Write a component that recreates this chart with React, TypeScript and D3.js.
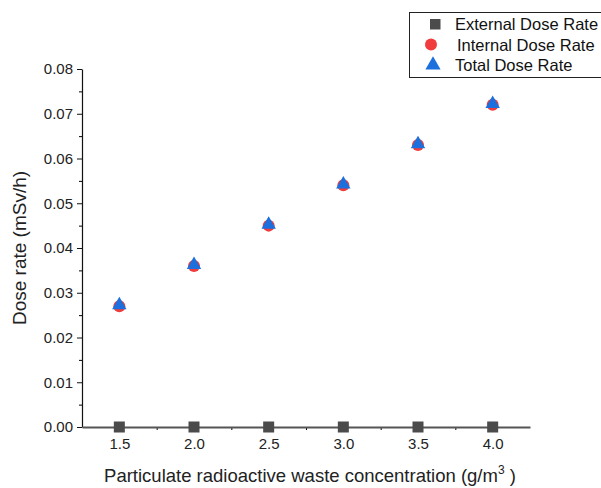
import React, { useEffect, useRef } from 'react';
import * as d3 from 'd3';

const concentrations = [1.5, 2.0, 2.5, 3.0, 3.5, 4.0];
const externalRate = [0, 0, 0, 0, 0, 0];
const internalRate = [0.027, 0.036, 0.045, 0.054, 0.063, 0.072];
const totalRate = [0.027, 0.036, 0.045, 0.054, 0.063, 0.072];
const yTicks = [0, 0.01, 0.02, 0.03, 0.04, 0.05, 0.06, 0.07, 0.08];
const seriesNames = ['External Dose Rate', 'Internal Dose Rate', 'Total Dose Rate'];

const width = 601;
const height = 488;
const margin = { left: 82, right: 71, top: 69, bottom: 60 };
const font = 'Arial, "Liberation Sans", sans-serif';

const colors = ['#4b4b4b', '#f03c3c', '#1c6fdc'];

function App() {
  const svgRef = useRef<SVGSVGElement>(null);

  useEffect(() => {
    const svg = d3.select(svgRef.current);
    svg.selectAll('*').remove();

    const x = d3.scaleLinear().domain([1.25, 4.25]).range([margin.left, width - margin.right]);
    const y = d3.scaleLinear().domain([0, 0.08]).range([height - margin.bottom - 1, margin.top]);

    // y axis, minor ticks then major
    const yMinor = svg.append('g').attr('transform', `translate(${margin.left},0)`);
    yMinor.call(d3.axisLeft(y).tickValues(d3.range(0.005, 0.08, 0.01)).tickSize(3).tickFormat(() => ''));
    yMinor.call((g) => g.select('.domain').remove());
    const yMajor = svg.append('g').attr('transform', `translate(${margin.left},0)`);
    yMajor.call(d3.axisLeft(y).tickValues(yTicks).tickSize(5).tickSizeOuter(0).tickPadding(4).tickFormat(d3.format('.2f')));
    yMajor.selectAll('text').attr('font-family', font).attr('font-size', 15).attr('fill', '#222');
    yMajor.select('.domain').attr('stroke', '#111').attr('stroke-width', 1.2);
    yMajor.selectAll('line').attr('stroke', '#111');

    // x axis
    const xMinor = svg.append('g').attr('transform', `translate(0,${y(0)})`);
    xMinor.call(d3.axisBottom(x).tickValues(d3.range(1.75, 4.0, 0.5)).tickSize(3).tickFormat(() => ''));
    xMinor.call((g) => g.select('.domain').remove());
    const xMajor = svg.append('g').attr('transform', `translate(0,${y(0)})`);
    xMajor.call(d3.axisBottom(x).tickValues(concentrations).tickSize(5).tickSizeOuter(0).tickPadding(6).tickFormat(d3.format('.1f')));
    xMajor.selectAll('text').attr('font-family', font).attr('font-size', 15).attr('fill', '#222');
    xMajor.select('.domain').attr('stroke', '#555').attr('stroke-width', 2);

    // axis titles
    svg.append('text')
      .attr('transform', `translate(26,${(y(0) + y(0.08)) / 2}) rotate(-90)`)
      .attr('text-anchor', 'middle')
      .attr('font-family', font).attr('font-size', 19).attr('fill', '#222')
      .text('Dose rate (mSv/h)');

    const xt = svg.append('text')
      .attr('x', 310).attr('y', 482)
      .attr('text-anchor', 'middle')
      .attr('font-family', font).attr('font-size', 18.5).attr('fill', '#222');
    xt.append('tspan').text('Particulate radioactive waste concentration (g/m');
    xt.append('tspan').attr('font-size', 12).attr('dy', -8).text('3');
    xt.append('tspan').attr('dy', 8).text(' )');

    const tri = d3.symbol().type(d3.symbolTriangle).size(90);

    // markers
    svg.append('g').selectAll('rect').data(concentrations).join('rect')
      .attr('x', (d) => x(d) - 5.5).attr('y', (d, i) => y(externalRate[i]) - 5.5)
      .attr('width', 11).attr('height', 11).attr('fill', colors[0]);
    svg.append('g').selectAll('circle').data(concentrations).join('circle')
      .attr('cx', (d) => x(d)).attr('cy', (d, i) => y(internalRate[i]))
      .attr('r', 6).attr('fill', colors[1]);
    svg.append('g').selectAll('path').data(concentrations).join('path')
      .attr('d', tri)
      .attr('transform', (d, i) => `translate(${x(d)},${y(totalRate[i]) - 1})`)
      .attr('fill', colors[2]);

    // legend
    const lg = svg.append('g');
    lg.append('rect').attr('x', 409.5).attr('y', 12.5).attr('width', 200).attr('height', 65)
      .attr('fill', 'white').attr('stroke', '#222').attr('stroke-width', 1);
    seriesNames.forEach((name, i) => {
      const cy = 24 + i * 20.5;
      if (i === 0) lg.append('rect').attr('x', 430).attr('y', cy - 5).attr('width', 10.5).attr('height', 10.5).attr('fill', colors[0]);
      if (i === 1) lg.append('circle').attr('cx', 431).attr('cy', cy).attr('r', 6).attr('fill', colors[1]);
      if (i === 2) lg.append('path').attr('d', d3.symbol().type(d3.symbolTriangle).size(100)).attr('transform', `translate(433,${cy})`).attr('fill', colors[2]);
      lg.append('text').attr('x', 455 + (i === 1 ? 2 : 0)).attr('y', cy + 6)
        .attr('font-family', font).attr('font-size', 16.5).attr('fill', '#111').text(name);
    });
  }, []);

  return (
    <svg ref={svgRef} width={width} height={height}
      style={{ position: 'absolute', left: 0, top: 0, background: 'white' }} />
  );
}

export default App;
